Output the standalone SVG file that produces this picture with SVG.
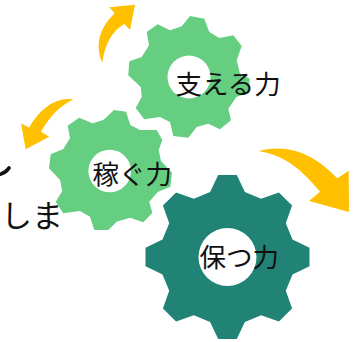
<svg xmlns="http://www.w3.org/2000/svg" width="358" height="342" viewBox="0 0 358 342">
<style>
.lbl{font-family:"Noto Sans CJK JP","Noto Sans",sans-serif;font-size:26.5px;fill:#111}
.arrow{fill:#FFC000}
.light{fill:#66CE80}
.dark{fill:#208376}
.hole{fill:#fff}
</style>
<defs>
<polygon id="gear" points="-17.4,-65 -9.3,-82 9.3,-82 17.4,-65 33.65,-58.3 51.4,-64.6 64.6,-51.4 58.3,-33.65 65,-17.4 82,-9.3 82,9.3 65,17.4 58.3,33.65 64.6,51.4 51.4,64.6 33.65,58.3 17.4,65 9.3,82 -9.3,82 -17.4,65 -33.65,58.3 -51.4,64.6 -64.6,51.4 -58.3,33.65 -65,17.4 -82,9.3 -82,-9.3 -65,-17.4 -58.3,-33.65 -64.6,-51.4 -51.4,-64.6 -33.65,-58.3"/>
</defs>
<rect width="358" height="342" fill="#fff"/>
<g id="connectors">
<path class="arrow" d="M102.3,62.7C96,48 97,30 114.7,13.3L109.3,7.3L135,4.7L130,30L124.3,24C112,31 105,44 102.3,62.7Z"/>
<path class="arrow" d="M73.3,99.3C55,97 40,109 29,127.7L21,123.3L25.7,149.3L49.3,136.7L41,131.7C50,116 60,106 73.3,99.3Z"/>
<path class="arrow" d="M258.3,151C290,143 315,155 337.3,178.3L348.7,170.7L349,212L309,201L320,191.7C302,170 285,155 258.3,151Z"/>
</g>
<g id="gear-support">
<polygon class="light" points="190,16 204.3,18.7 209.3,32 219.3,38 233.3,35.3 241.7,46 236.7,60.3 240,73.7 249.7,78.7 248.7,92.7 236.3,97 228.3,108.7 231,120.3 220,129.3 208.3,123.7 196.7,127 188.3,137.7 173.3,136 170,122 160,117 144.3,119.3 135.7,108 141.7,97 140.7,87 128.3,75.3 129.3,61.3 141.7,57 149,45.3 146.7,32 157.7,24.3 170,30.3 181.7,26.3"/>
<circle class="hole" cx="189" cy="77" r="21.5"/>
<text class="lbl" x="175.5" y="94">支える力</text>
</g>
<g id="gear-earn">
<polygon class="light" points="114,110 126,111.7 130.3,125 140,130 156.7,130 162.3,140 158.7,150 161,161 172,172.7 170.3,186.7 157.7,192 149.3,201.7 152.3,213 143.3,222.3 130,217.7 116.7,221.7 108.3,230 94.3,230 90,216.7 80,211 63.3,213.3 55.7,201.7 62.3,191 60,180 49,168.3 50.7,154.3 63.3,149 70,138.3 67.7,125.7 79,117.7 92.7,123.3 103.3,120"/>
<circle class="hole" cx="109.7" cy="171" r="21.3"/>
<text class="lbl" x="92.5" y="184">稼ぐ力</text>
</g>
<g id="gear-keep">
<use href="#gear" class="dark" transform="translate(227.5 257)"/>
<circle class="hole" cx="227.5" cy="257" r="29"/>
<text class="lbl" x="199.5" y="267">保つ力</text>
</g>
<g id="cut-off-text">
<path d="M-1,174.5C4,173.5 7,171 9,168" fill="none" stroke="#111" stroke-width="3.6" stroke-linecap="round"/>
<text class="lbl" style="font-size:31px" x="1" y="227">しま</text>
</g>
</svg>
